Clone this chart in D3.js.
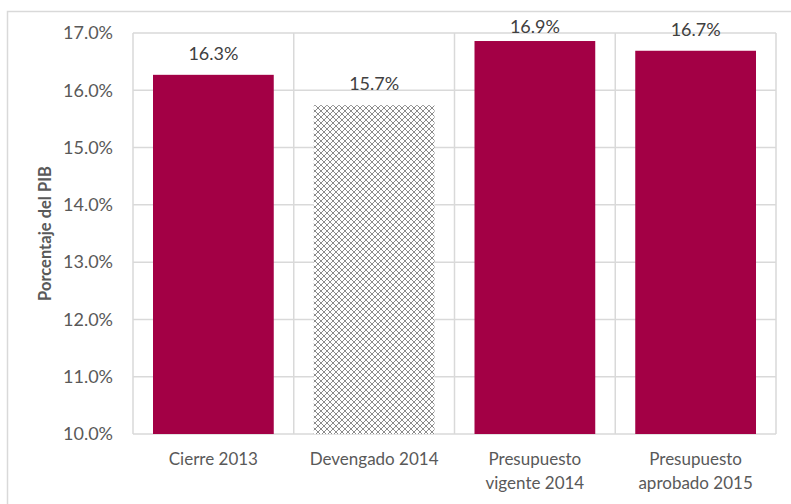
<!DOCTYPE html>
<html>
<head>
<meta charset="utf-8">
<script src="https://cdn.jsdelivr.net/npm/d3@7"></script>
<style>
  html, body { margin: 0; padding: 0; background: #fff; }
  svg { display: block; }
  text { font-family: Lato, "Open Sans", sans-serif; }
</style>
</head>
<body>
<svg id="chart" width="791" height="504"></svg>
<script>
const categories = [["Cierre 2013"], ["Devengado 2014"], ["Presupuesto", "vigente 2014"], ["Presupuesto", "aprobado 2015"]];
const values = [16.27, 15.74, 16.86, 16.69];
const hatched = [false, true, false, false];
const yTicks = [10, 11, 12, 13, 14, 15, 16, 17];
const yTitle = "Porcentaje del PIB";

const svg = d3.select("#chart");
const W = 791, H = 504;
const plot = { left: 133, right: 776, top: 33, bottom: 434 };

// outer frame
svg.append("rect").attr("x", 7.5).attr("y", 11.5).attr("width", W + 10).attr("height", H + 10)
  .attr("fill", "#fff").attr("stroke", "#d9d9d9").attr("stroke-width", 1.5);

const defs = svg.append("defs");
const pat = defs.append("pattern").attr("id", "xhatch").attr("patternUnits", "userSpaceOnUse")
  .attr("width", 6).attr("height", 6);
pat.append("rect").attr("width", 6).attr("height", 6).attr("fill", "#fff");
pat.append("path").attr("d", "M0,0 L6,6 M6,0 L0,6 M-1,5 L1,7 M5,-1 L7,1 M-1,1 L1,-1 M5,7 L7,5")
  .attr("stroke", "#6e6e6e").attr("stroke-width", 0.8).attr("fill", "none");

const x = d3.scaleBand().domain(d3.range(categories.length)).range([plot.left, plot.right]).paddingInner(0).paddingOuter(0);
const y = d3.scaleLinear().domain([10, 17]).range([plot.bottom, plot.top]);

// horizontal gridlines
svg.append("g").selectAll("line").data(yTicks).join("line")
  .attr("x1", plot.left).attr("x2", plot.right)
  .attr("y1", d => y(d)).attr("y2", d => y(d))
  .attr("stroke", "#d9d9d9").attr("stroke-width", 1.5);

// vertical gridlines (category separators)
const seps = d3.range(categories.length + 1).map(i => i < categories.length ? x(i) : plot.right);
svg.append("g").selectAll("line").data(seps).join("line")
  .attr("x1", d => d).attr("x2", d => d)
  .attr("y1", plot.top).attr("y2", plot.bottom)
  .attr("stroke", "#d9d9d9").attr("stroke-width", 1.5);

// y axis tick labels via d3 axis
const yAxis = d3.axisLeft(y).tickValues(yTicks).tickFormat(d => d3.format(".1f")(d) + "%").tickSize(0).tickPadding(20);
const ya = svg.append("g").attr("transform", `translate(${plot.left},0)`).call(yAxis);
ya.select(".domain").remove();
ya.selectAll("text").attr("font-size", 18).attr("fill", "#595959").style("font-family", "Lato, sans-serif");

// bars
const inset = 20;
const bw = x.bandwidth() - inset * 2;
svg.append("g").selectAll("rect").data(values).join("rect")
  .attr("x", (d, i) => x(i) + inset)
  .attr("y", d => y(d))
  .attr("width", bw)
  .attr("height", d => y(10) - y(d))
  .attr("fill", (d, i) => hatched[i] ? "url(#xhatch)" : "#a30045");

// data labels
svg.append("g").selectAll("text").data(values).join("text")
  .attr("x", (d, i) => x(i) + x.bandwidth() / 2)
  .attr("y", d => Math.max(y(d) - 15, 33))
  .attr("text-anchor", "middle")
  .attr("font-size", 18).attr("fill", "#404040")
  .text(d => d3.format(".1f")(d) + "%");

// x labels
const xl = svg.append("g").selectAll("text").data(categories).join("text")
  .attr("text-anchor", "middle")
  .attr("font-size", 17).attr("fill", "#595959")
  .attr("x", (d, i) => x(i) + x.bandwidth() / 2)
  .attr("y", 465);
xl.selectAll("tspan").data(d => d).join("tspan")
  .attr("x", function () { return d3.select(this.parentNode).attr("x"); })
  .attr("dy", (d, j) => j === 0 ? 0 : 24)
  .text(d => d);

// y title
svg.append("text")
  .attr("transform", `translate(51,${(plot.top + plot.bottom) / 2}) rotate(-90)`)
  .attr("text-anchor", "middle")
  .attr("font-size", 16.5).attr("font-weight", "bold").attr("fill", "#595959")
  .text(yTitle);
</script>
</body>
</html>
